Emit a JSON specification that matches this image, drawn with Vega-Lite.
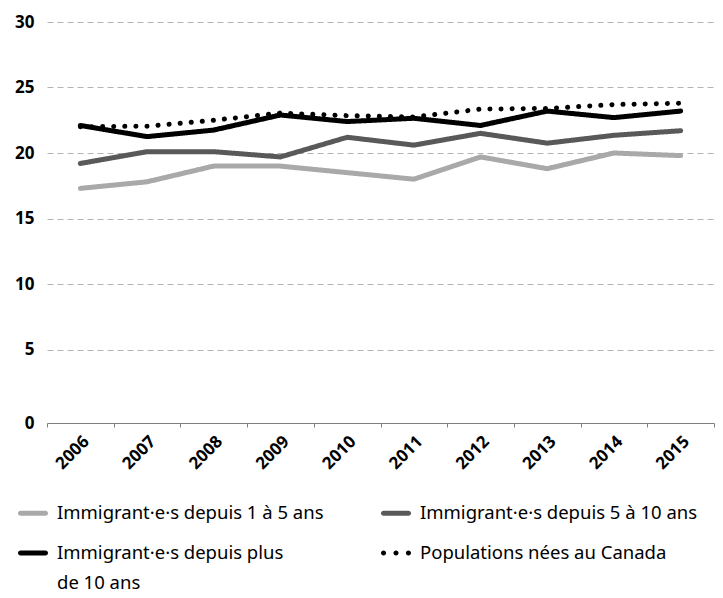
{
  "$schema": "https://vega.github.io/schema/vega-lite/v6.json",
  "width": 667,
  "height": 393,
  "autosize": "none",
  "padding": {"left": 47, "top": 22, "right": 9, "bottom": 183},
  "config": {"view": {"stroke": null}, "font": "Open Sans", "style": {"guide-label": {"lineHeight": 30}}},
  "data": {
    "values": [
      {"year": "2006", "series": "Immigrant·e·s depuis 1 à 5 ans", "value": 17.3},
      {"year": "2007", "series": "Immigrant·e·s depuis 1 à 5 ans", "value": 17.8},
      {"year": "2008", "series": "Immigrant·e·s depuis 1 à 5 ans", "value": 19.0},
      {"year": "2009", "series": "Immigrant·e·s depuis 1 à 5 ans", "value": 19.0},
      {"year": "2010", "series": "Immigrant·e·s depuis 1 à 5 ans", "value": 18.5},
      {"year": "2011", "series": "Immigrant·e·s depuis 1 à 5 ans", "value": 18.0},
      {"year": "2012", "series": "Immigrant·e·s depuis 1 à 5 ans", "value": 19.7},
      {"year": "2013", "series": "Immigrant·e·s depuis 1 à 5 ans", "value": 18.8},
      {"year": "2014", "series": "Immigrant·e·s depuis 1 à 5 ans", "value": 20.0},
      {"year": "2015", "series": "Immigrant·e·s depuis 1 à 5 ans", "value": 19.8},
      {"year": "2006", "series": "Immigrant·e·s depuis 5 à 10 ans", "value": 19.2},
      {"year": "2007", "series": "Immigrant·e·s depuis 5 à 10 ans", "value": 20.1},
      {"year": "2008", "series": "Immigrant·e·s depuis 5 à 10 ans", "value": 20.1},
      {"year": "2009", "series": "Immigrant·e·s depuis 5 à 10 ans", "value": 19.7},
      {"year": "2010", "series": "Immigrant·e·s depuis 5 à 10 ans", "value": 21.2},
      {"year": "2011", "series": "Immigrant·e·s depuis 5 à 10 ans", "value": 20.6},
      {"year": "2012", "series": "Immigrant·e·s depuis 5 à 10 ans", "value": 21.5},
      {"year": "2013", "series": "Immigrant·e·s depuis 5 à 10 ans", "value": 20.75},
      {"year": "2014", "series": "Immigrant·e·s depuis 5 à 10 ans", "value": 21.35},
      {"year": "2015", "series": "Immigrant·e·s depuis 5 à 10 ans", "value": 21.7},
      {"year": "2006", "series": "Populations nées au Canada", "value": 22.0},
      {"year": "2007", "series": "Populations nées au Canada", "value": 22.05},
      {"year": "2008", "series": "Populations nées au Canada", "value": 22.5},
      {"year": "2009", "series": "Populations nées au Canada", "value": 23.05},
      {"year": "2010", "series": "Populations nées au Canada", "value": 22.85},
      {"year": "2011", "series": "Populations nées au Canada", "value": 22.75},
      {"year": "2012", "series": "Populations nées au Canada", "value": 23.35},
      {"year": "2013", "series": "Populations nées au Canada", "value": 23.4},
      {"year": "2014", "series": "Populations nées au Canada", "value": 23.7},
      {"year": "2015", "series": "Populations nées au Canada", "value": 23.8},
      {"year": "2006", "series": "Immigrant·e·s depuis plus de 10 ans", "value": 22.1},
      {"year": "2007", "series": "Immigrant·e·s depuis plus de 10 ans", "value": 21.25},
      {"year": "2008", "series": "Immigrant·e·s depuis plus de 10 ans", "value": 21.75},
      {"year": "2009", "series": "Immigrant·e·s depuis plus de 10 ans", "value": 22.9},
      {"year": "2010", "series": "Immigrant·e·s depuis plus de 10 ans", "value": 22.4},
      {"year": "2011", "series": "Immigrant·e·s depuis plus de 10 ans", "value": 22.65},
      {"year": "2012", "series": "Immigrant·e·s depuis plus de 10 ans", "value": 22.1},
      {"year": "2013", "series": "Immigrant·e·s depuis plus de 10 ans", "value": 23.2},
      {"year": "2014", "series": "Immigrant·e·s depuis plus de 10 ans", "value": 22.7},
      {"year": "2015", "series": "Immigrant·e·s depuis plus de 10 ans", "value": 23.2}
    ]
  },
  "encoding": {
    "x": {
      "field": "year",
      "type": "ordinal",
      "bandPosition": 0.5,
      "scale": {"type": "band", "paddingInner": 0, "paddingOuter": 0},
      "axis": {
        "title": null,
        "labelAngle": -45,
        "labelFont": "Open Sans",
        "labelFontSize": 17,
        "labelFontWeight": "bold",
        "labelColor": "black",
        "labelPadding": 6,
        "domainColor": "#7f7f7f",
        "tickColor": "#7f7f7f",
        "tickSize": 4,
        "tickBand": "extent",
        "grid": false,
        "offset": 8
      }
    },
    "y": {
      "field": "value",
      "type": "quantitative",
      "scale": {"domain": [0, 30]},
      "axis": {
        "title": null,
        "values": [0, 5, 10, 15, 20, 25, 30],
        "domain": false,
        "ticks": false,
        "gridDash": [6, 4],
        "gridColor": "#b3b3b3",
        "gridOpacity": {"condition": {"test": "datum.value === 0", "value": 0}, "value": 1},
        "labelOffset": {"condition": {"test": "datum.value === 0", "value": 8}, "value": 0},
        "labelFont": "Open Sans",
        "labelFontSize": 17,
        "labelFontWeight": "bold",
        "labelColor": "black",
        "labelPadding": 13
      }
    },
    "color": {
      "field": "series",
      "type": "nominal",
      "scale": {
        "domain": ["Immigrant·e·s depuis 1 à 5 ans", "Immigrant·e·s depuis 5 à 10 ans", "Immigrant·e·s depuis plus de 10 ans", "Populations nées au Canada"],
        "range": ["#a9a9a9", "#595959", "#000000", "#000000"]
      },
      "legend": {
        "title": null,
        "orient": "none",
        "direction": "horizontal",
        "legendX": -29,
        "legendY": 461,
        "columns": 2,
        "symbolSize": 900,
        "symbolStrokeWidth": 0,
        "symbolOpacity": 1,
        "labelFont": "Noto Sans",
        "labelFontSize": 18.5,
        "labelColor": "black",
        "labelOffset": 9,
        "labelLimit": 400,
        "columnPadding": 46,
        "rowPadding": -3,
        "gridAlign": "all",
        "labelExpr": "datum.label == 'Immigrant·e·s depuis plus de 10 ans' ? ['Immigrant·e·s depuis plus', 'de 10 ans'] : datum.label"
      }
    }
  },
  "layer": [
    {
      "mark": {"type": "line", "strokeWidth": 5, "strokeCap": "round", "strokeJoin": "round"},
      "encoding": {
        "strokeDash": {
          "field": "series",
          "type": "nominal",
          "scale": {
            "domain": ["Immigrant·e·s depuis 1 à 5 ans", "Immigrant·e·s depuis 5 à 10 ans", "Immigrant·e·s depuis plus de 10 ans", "Populations nées au Canada"],
            "range": [[1, 0], [1, 0], [1, 0], [0.1, 11]]
          },
          "legend": null
        }
      }
    },
    {
      "transform": [{"filter": "datum.value < 0"}],
      "mark": {"type": "point", "filled": true, "strokeWidth": 0},
      "encoding": {
        "shape": {
          "field": "series",
          "type": "nominal",
          "scale": {
            "domain": ["Immigrant·e·s depuis 1 à 5 ans", "Immigrant·e·s depuis 5 à 10 ans", "Immigrant·e·s depuis plus de 10 ans", "Populations nées au Canada"],
            "range": [
              "M-0.83,-0.17H0.83A0.17,0.17 0 0 1 0.83,0.17H-0.83A0.17,0.17 0 0 1 -0.83,-0.17Z",
              "M-0.83,-0.17H0.83A0.17,0.17 0 0 1 0.83,0.17H-0.83A0.17,0.17 0 0 1 -0.83,-0.17Z",
              "M-0.83,-0.17H0.83A0.17,0.17 0 0 1 0.83,0.17H-0.83A0.17,0.17 0 0 1 -0.83,-0.17Z",
              "M-1,0A0.17,0.17 0 1 1 -0.66,0A0.17,0.17 0 1 1 -1,0ZM-0.17,0A0.17,0.17 0 1 1 0.17,0A0.17,0.17 0 1 1 -0.17,0ZM0.66,0A0.17,0.17 0 1 1 1,0A0.17,0.17 0 1 1 0.66,0Z"
            ]
          },
          "legend": {
            "title": null,
            "orient": "none",
            "direction": "horizontal",
            "legendX": -29,
            "legendY": 461,
            "columns": 2,
            "symbolSize": 900,
            "symbolStrokeWidth": 0,
            "symbolOpacity": 1,
            "labelFont": "Noto Sans",
            "labelFontSize": 18.5,
            "labelColor": "black",
            "labelOffset": 9,
            "labelLimit": 400,
            "columnPadding": 46,
            "rowPadding": -3,
            "gridAlign": "all",
            "labelExpr": "datum.label == 'Immigrant·e·s depuis plus de 10 ans' ? ['Immigrant·e·s depuis plus', 'de 10 ans'] : datum.label"
          }
        }
      }
    }
  ]
}
